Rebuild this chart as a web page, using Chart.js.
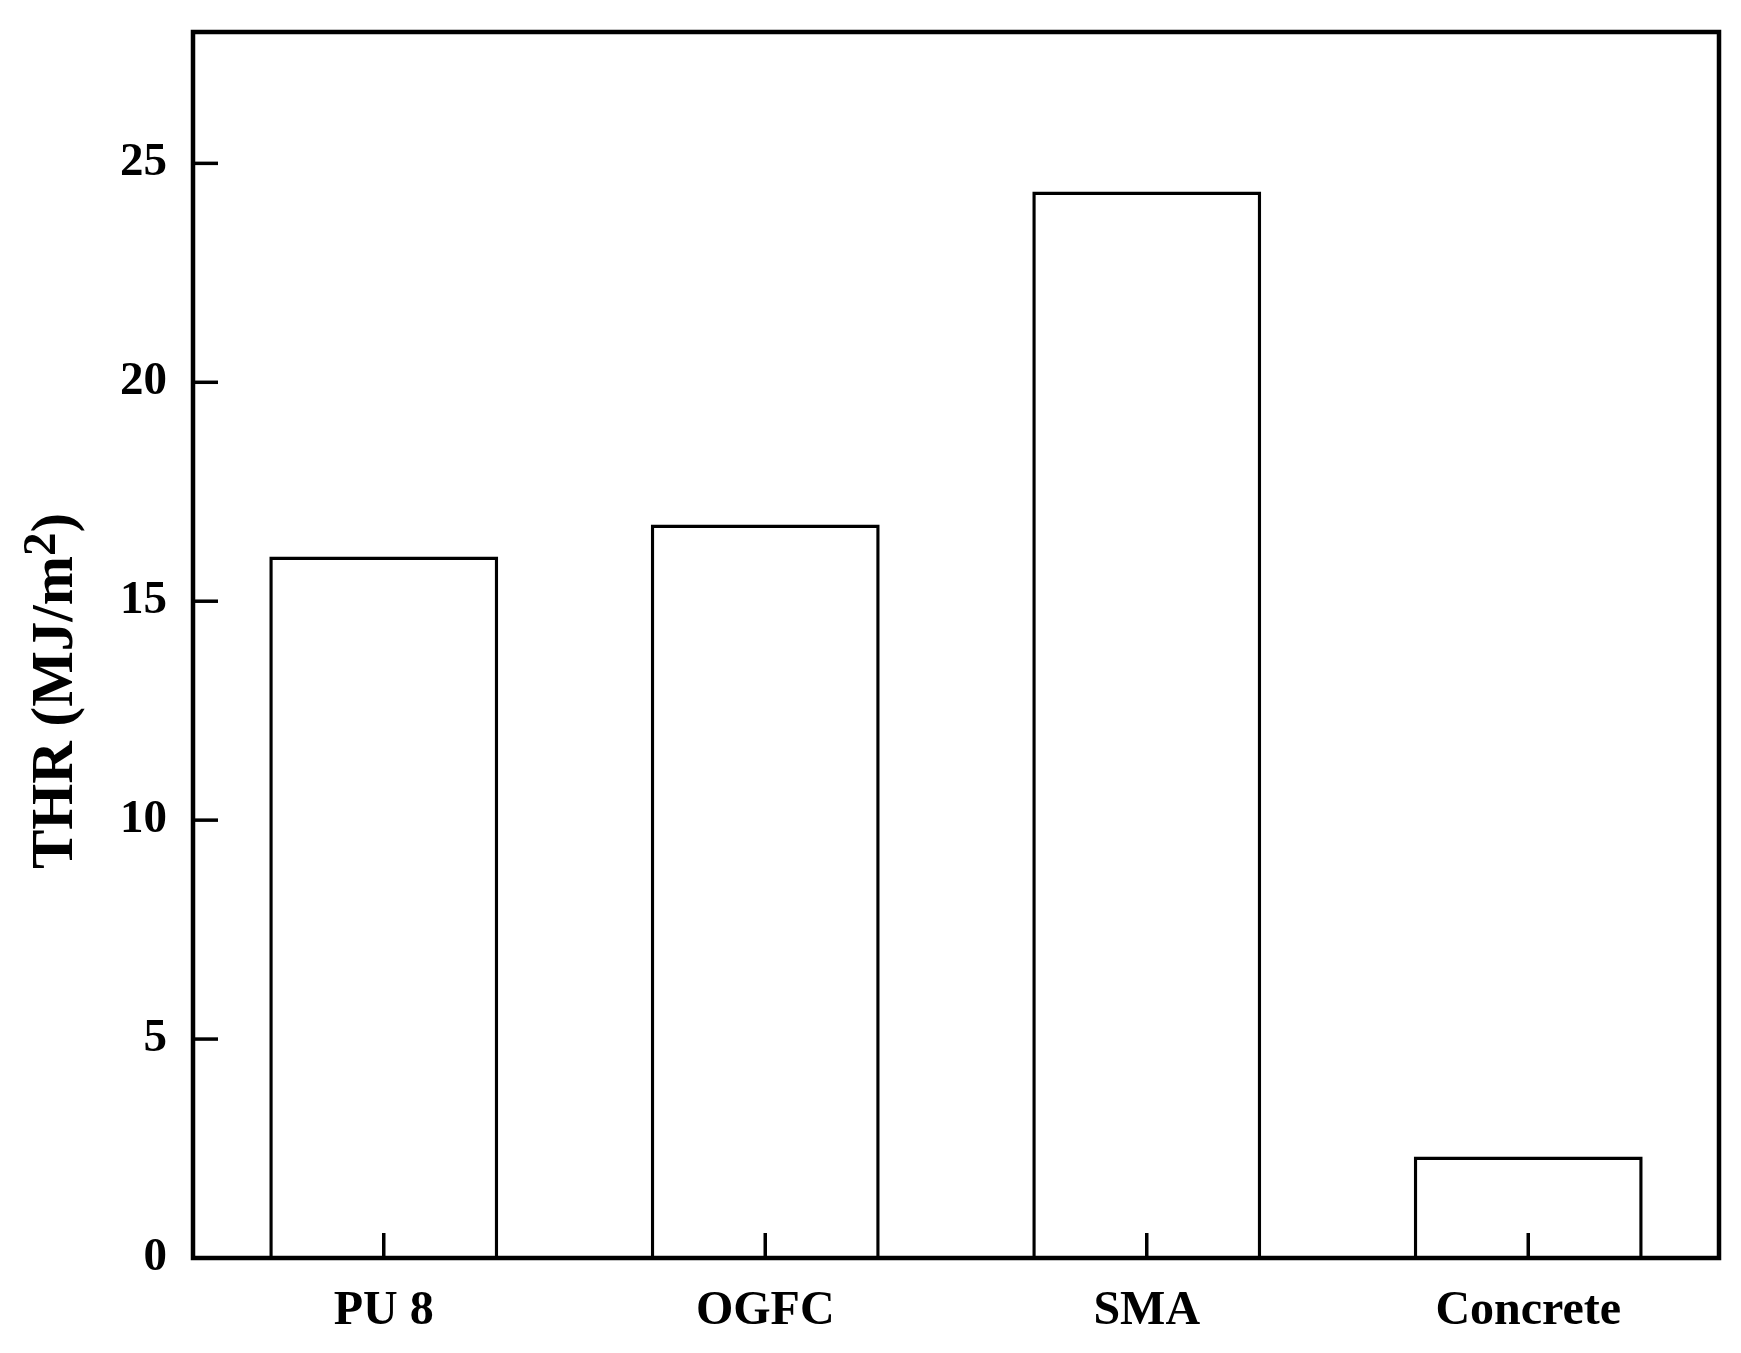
<!DOCTYPE html>
<html>
<head>
<meta charset="utf-8">
<script src="https://cdn.jsdelivr.net/npm/chart.js@4/dist/chart.umd.min.js"></script>
<style>
  html, body { margin: 0; padding: 0; background: #fff; }
  #wrap { width: 1741px; height: 1353px; }
</style>
</head>
<body>
<div id="wrap"><canvas id="thrChart" width="1741" height="1353"></canvas></div>
<script>
// data
const categories = ['PU 8', 'OGFC', 'SMA', 'Concrete'];
const thrValues = [16.02, 16.75, 24.36, 2.32];
const yTicks = [0, 5, 10, 15, 20, 25];
const yMax = 28;

const FONT = 'Liberation Serif';

// frame, inward ticks and the rotated y title
const framePlugin = {
  id: 'frame',
  afterDraw(chart) {
    const ctx = chart.ctx;
    const a = chart.chartArea;
    const x = chart.scales.x;
    const y = chart.scales.y;
    ctx.save();
    ctx.strokeStyle = '#000';
    ctx.lineWidth = 3.5;
    // y ticks pointing inside
    yTicks.forEach(v => {
      const py = y.getPixelForValue(v);
      ctx.beginPath();
      ctx.moveTo(a.left, py);
      ctx.lineTo(a.left + 25, py);
      ctx.stroke();
    });
    // x ticks pointing inside
    categories.forEach((c, i) => {
      const px = x.getPixelForValue(i);
      ctx.beginPath();
      ctx.moveTo(px, a.bottom);
      ctx.lineTo(px, a.bottom - 25);
      ctx.stroke();
    });
    ctx.lineWidth = 4.5;
    ctx.strokeRect(a.left, a.top, a.right - a.left, a.bottom - a.top);

    // y title: THR (MJ/m^2)
    ctx.fillStyle = '#000';
    ctx.textBaseline = 'alphabetic';
    ctx.textAlign = 'left';
    const mainFont = 'bold 59px "' + FONT + '"';
    const supFont = 'bold 47px "' + FONT + '"';
    ctx.font = mainFont;
    const w1 = ctx.measureText('THR (MJ/m').width;
    const w3 = ctx.measureText(')').width;
    ctx.font = supFont;
    const w2 = ctx.measureText('2').width;
    const total = w1 + w2 + w3;
    ctx.translate(72, 691);
    ctx.rotate(-Math.PI / 2);
    let sx = -total / 2;
    ctx.font = mainFont;
    ctx.fillText('THR (MJ/m', sx, 0);
    sx += w1;
    ctx.font = supFont;
    ctx.fillText('2', sx, -17);
    sx += w2;
    ctx.font = mainFont;
    ctx.fillText(')', sx, 0);
    ctx.restore();
  }
};

const ctx = document.getElementById('thrChart').getContext('2d');

new Chart(ctx, {
  type: 'bar',
  data: {
    labels: categories,
    datasets: [{
      label: 'THR',
      data: thrValues,
      backgroundColor: '#ffffff',
      borderColor: '#000000',
      borderWidth: 3.5,
      borderSkipped: 'start',
      barPercentage: 0.6,
      categoryPercentage: 1.0
    }]
  },
  options: {
    responsive: false,
    animation: false,
    events: [],
    layout: { padding: { left: 0, top: 32, right: 22, bottom: 0 } },
    plugins: {
      legend: { display: false },
      tooltip: { enabled: false }
    },
    scales: {
      x: {
        offset: true,
        grid: { display: false, drawTicks: false },
        border: { display: false },
        ticks: {
          color: '#000',
          padding: 25,
          maxRotation: 0,
          font: { family: FONT, size: 48, weight: 'bold' }
        },
        afterFit(scale) {
          scale.height = 95;
          scale.paddingLeft = 0;
          scale.paddingRight = 0;
        }
      },
      y: {
        min: 0,
        max: yMax,
        grid: { display: false, drawTicks: false },
        border: { display: false },
        ticks: {
          stepSize: 5,
          includeBounds: false,
          color: '#000',
          padding: 26,
          font: { family: FONT, size: 47, weight: 'bold' }
        },
        afterFit(scale) {
          scale.width = 193;
          scale.paddingTop = 0;
          scale.paddingBottom = 0;
        }
      }
    }
  },
  plugins: [framePlugin]
});
</script>
</body>
</html>
